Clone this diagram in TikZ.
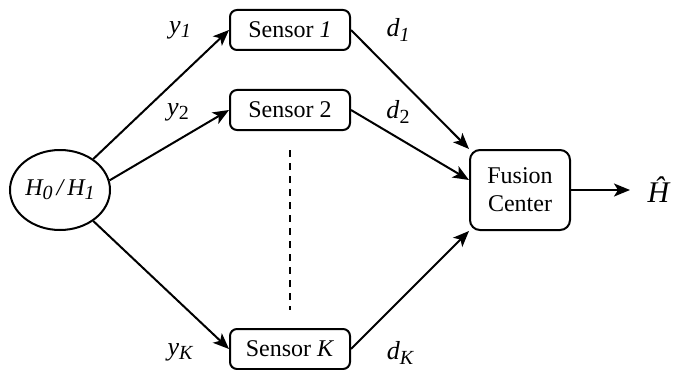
\documentclass[tikz,border=0pt]{standalone}
\usepackage{fontspec}
\setmainfont{Liberation Serif}
\usepackage{tikz}
\usetikzlibrary{
    arrows.meta,
    shapes.geometric,
    positioning
}
\newcommand{\lowsub}[1]{\raisebox{-0.35ex}{\fontsize{10}{10}\selectfont #1}}

\begin{document}
\begin{tikzpicture}[x=0.5pt, y=-0.5pt,
    every node/.style={font=\fontsize{12}{14}\selectfont},
    hypnode/.style={draw, ellipse, line width=1pt, minimum width=50pt, minimum height=40pt, inner sep=0pt},
    sensorbox/.style={draw, rectangle, rounded corners=3.5pt, line width=1pt, minimum width=60pt, minimum height=20pt, inner sep=0pt},
    fusionbox/.style={draw, rectangle, rounded corners=5pt, line width=1pt, minimum width=50pt, minimum height=40pt, inner sep=0pt, align=center},
    varlabel/.style={font=\fontsize{13}{15}\selectfont},
    arr/.style={-{Stealth[length=8pt, width=6.5pt, inset=2pt]}, line width=1pt}]
    \useasboundingbox (0, 0) rectangle (673, 369);
    \node[hypnode] (hyp) at (60, 190) {\textit{H\lowsub{0}\,/\,H\lowsub{1}}};
    \node[sensorbox] (s1) at (290, 30) {Sensor \textit{1}};
    \node[sensorbox] (s2) at (290, 110) {Sensor 2};
    \node[sensorbox] (sk) at (290, 349) {Sensor \textit{K}};
    \node[fusionbox] (fc) at (520, 190) {Fusion\\Center};
    \node[font=\fontsize{15}{17}\selectfont] (hhat) at (659, 190) {\textit{\^H}};
    \coordinate (dtop) at (290, 150);
    \coordinate (dbot) at (290, 310);
    \draw[dashed, dash pattern=on 3.5pt off 3pt, line width=0.8pt] (dtop) -- (dbot);
    \draw[arr] (hyp.43.5) -- (s1.west);
    \draw[arr] (hyp.11) -- (s2.west);
    \draw[arr] (hyp.-43.5) -- (sk.west);
    \draw[arr] (s1.east) -- (fc.north west);
    \draw[arr] (s2.east) -- ([yshift=5pt]fc.west);
    \draw[arr] (sk.east) -- (fc.south west);
    \draw[arr] (fc.east) -- (630, 190);
    \node[varlabel] (ly1) at (180, 30) {\textit{y\lowsub{1}}};
    \node[varlabel] (ly2) at (178, 112) {\textit{y}\lowsub{2}};
    \node[varlabel] (lyk) at (180, 352) {\textit{y\lowsub{K}}};
    \node[varlabel] (ld1) at (398, 30) {\textit{d\lowsub{1}}};
    \node[varlabel] (ld2) at (398, 112) {\textit{d}\lowsub{2}};
    \node[varlabel] (ldk) at (400, 353) {\textit{d\lowsub{K}}};
\end{tikzpicture}
\end{document}
